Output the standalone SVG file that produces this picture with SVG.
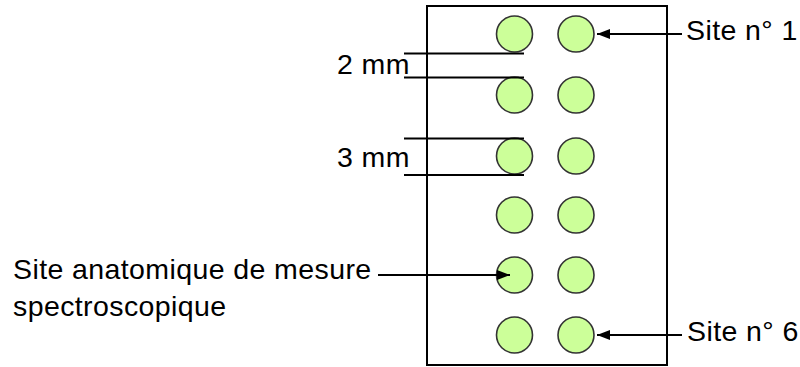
<svg xmlns="http://www.w3.org/2000/svg" width="800" height="367" viewBox="0 0 800 367">
<style>
.site{fill:#ccff99;stroke:#333;stroke-width:1.6}
.ln{stroke:#000;stroke-width:1.8;fill:none}
.t{font-family:"Liberation Sans",Arial,sans-serif;font-size:28.5px;letter-spacing:0.4px;fill:#000}
</style>
<defs>
<marker id="ah" markerUnits="userSpaceOnUse" markerWidth="14" markerHeight="12" refX="13" refY="5" orient="auto">
<path d="M0,0 L13,5 L0,10 Z" fill="#000"/>
</marker>
</defs>
<rect id="plate" x="427" y="6" width="240" height="359" fill="#fff" stroke="#000" stroke-width="2"/>
<g id="sites">
<circle id="s1a" class="site" cx="514.5" cy="34" r="18"/>
<circle id="s1b" class="site" cx="576" cy="34" r="18"/>
<circle id="s2a" class="site" cx="514.5" cy="95" r="18"/>
<circle id="s2b" class="site" cx="576" cy="95" r="18"/>
<circle id="s3a" class="site" cx="514.5" cy="156" r="18"/>
<circle id="s3b" class="site" cx="576" cy="156" r="18"/>
<circle id="s4a" class="site" cx="514.5" cy="215" r="18"/>
<circle id="s4b" class="site" cx="576" cy="215" r="18"/>
<circle id="s5a" class="site" cx="514.5" cy="275" r="18"/>
<circle id="s5b" class="site" cx="576" cy="275" r="18"/>
<circle id="s6a" class="site" cx="514.5" cy="335" r="18"/>
<circle id="s6b" class="site" cx="576" cy="335" r="18"/>
</g>
<g id="connectors">
<line class="ln" x1="404" y1="53.5" x2="524" y2="53.5"/>
<line class="ln" x1="404" y1="77.5" x2="524" y2="77.5"/>
<line class="ln" x1="404" y1="138.5" x2="524" y2="138.5"/>
<line class="ln" x1="404" y1="175" x2="524" y2="175"/>
<line class="ln" x1="682" y1="34" x2="597" y2="34" marker-end="url(#ah)"/>
<line class="ln" x1="682" y1="335" x2="597" y2="335" marker-end="url(#ah)"/>
<line class="ln" x1="378" y1="275" x2="510" y2="275" marker-end="url(#ah)"/>
</g>
<g id="labels">
<text class="t" x="337" y="74">2 mm</text>
<text class="t" x="337" y="167">3 mm</text>
<text class="t" x="686" y="40">Site n° 1</text>
<text class="t" x="687" y="341">Site n° 6</text>
<text class="t" x="13" y="279">Site anatomique de mesure</text>
<text class="t" x="13" y="316">spectroscopique</text>
</g>
</svg>
